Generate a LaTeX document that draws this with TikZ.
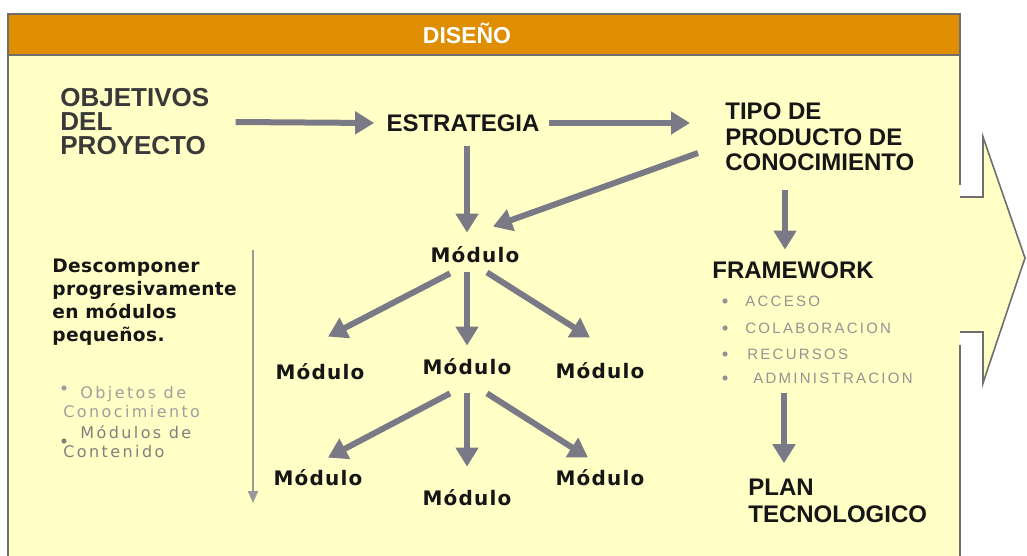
\documentclass[tikz,border=0pt]{standalone}
\usepackage{fontspec}
\setmainfont{Liberation Sans}
\newfontfamily\modfont[LetterSpace=6]{DejaVu Sans}
\newfontfamily\descfont[LetterSpace=2]{DejaVu Sans}
\newfontfamily\notefont[LetterSpace=15]{DejaVu Sans}
\newfontfamily\itemfont[LetterSpace=15]{Liberation Sans}
\usetikzlibrary{arrows.meta}
\definecolor{hdrorange}{RGB}{222,142,0}
\definecolor{paper}{RGB}{255,255,198}
\definecolor{arrowgray}{RGB}{122,122,134}
\definecolor{edgegray}{RGB}{110,110,110}
\definecolor{ink}{RGB}{22,22,22}

\begin{document}
\begin{tikzpicture}[x=0.5pt, y=-0.5pt,
    label/.style={font=\fontsize{12}{12.75}\selectfont\bfseries, text=ink, inner sep=0pt, align=left},
    word/.style={label, text height=8.5pt, text depth=0pt},
    modbox/.style={font=\modfont\fontsize{10}{11}\selectfont\bfseries, text=ink, inner sep=0pt, text height=7pt, text depth=0pt},
    flow/.style={draw=arrowgray, line width=3pt, -{Triangle[length=9.5pt,width=11pt]}},
    fwitem/.style={font=\itemfont\fontsize{7.5}{8}\selectfont, text=gray!85, anchor=west, inner sep=0pt},
    note/.style={font=\notefont\fontsize{8}{9.5}\selectfont, align=left, anchor=west, inner sep=0pt}]
    \useasboundingbox (0,0) rectangle (1027,556);

    % --- frame and header ---
    \fill[paper] (8,14) rectangle (960,556);
    \fill[hdrorange] (8,14) rectangle (960,55);
    \draw[edgegray, line width=1pt] (8,556) -- (8,14) -- (960,14) -- (960,185);
    \draw[edgegray, line width=1pt] (960,345) -- (960,556);
    \draw[edgegray, line width=1pt] (8,55) -- (960,55);
    \filldraw[fill=paper, draw=edgegray, line width=0.8pt] (960,197) -- (983,197) -- (983,137) -- (1025,258) -- (983,383) -- (983,332) -- (960,332);
    \node[font=\fontsize{11.5}{12}\selectfont\bfseries, text=white] (hdr) at (467,33) {DISEÑO};

    % --- top row ---
    \node[label, anchor=west, text=ink!85, font=\fontsize{13}{12}\selectfont\bfseries] (obj) at (60,122) {OBJETIVOS\\DEL\\PROYECTO};
    \node[word] (estr) at (463,123) {ESTRATEGIA};
    \node[label, anchor=west] (tipo) at (725,137) {TIPO DE\\PRODUCTO DE\\CONOCIMIENTO};

    % --- module tree ---
    \node[modbox] (m0) at (475,255) {Módulo};
    \node[modbox] (m1l) at (320,372) {Módulo};
    \node[modbox] (m1c) at (467,367) {Módulo};
    \node[modbox] (m1r) at (600,371) {Módulo};
    \node[modbox] (m2l) at (318,478) {Módulo};
    \node[modbox] (m2c) at (467,498) {Módulo};
    \node[modbox] (m2r) at (600,478) {Módulo};

    % --- left notes ---
    \node[font=\descfont\fontsize{9.3}{11.5}\selectfont\bfseries, align=left, anchor=west, inner sep=0pt, text=ink] (desc) at (52,302) {Descomponer\\progresivamente\\en módulos\\pequeños.};
    \fill[gray!75] (64,388) circle (1.3pt);
    \node[note, text=gray!75] (objc) at (63,402) {\hspace{8.5pt}Objetos de\\Conocimiento};
    \fill[gray] (64,441) circle (1.3pt);
    \node[note, text=gray] (cont) at (63,442) {\hspace{8.5pt}Módulos de\\Contenido};
    \coordinate (sweepTop) at (253,250);
    \coordinate (sweepBot) at (253,503);
    \draw[draw=gray!80, line width=1pt, -{Triangle[length=6pt,width=5pt]}] (sweepTop) -- (sweepBot);

    % --- right column ---
    \node[word, anchor=west] (fw) at (712,270) {FRAMEWORK};
    \foreach \n/\t/\xx/\yy in {acc/ACCESO/745/301, col/COLABORACION/745/328, rec/RECURSOS/747/354, adm/ADMINISTRACION/753/378} {
        \fill[gray!85] (725,\yy) circle (1.3pt);
        \node[fwitem] (\n) at (\xx,\yy) {\t};
    }
    \node[label, anchor=west, font=\fontsize{12}{13.5}\selectfont\bfseries] (plan) at (748,501) {PLAN\\TECNOLOGICO};

    % --- connectors ---
    \draw[flow] ([shift={(26,0)}]obj.east) -- ([shift={(-12,0)}]estr.west);
    \draw[flow] ([shift={(9,0)}]estr.east) -- ([shift={(-35,-14)}]tipo.west);
    \draw[flow] ([shift={(4,14)}]estr.south) -- ([shift={(-8,-15)}]m0.north);
    \draw[flow] ([shift={(-27,16)}]tipo.west) -- ([shift={(18,-21)}]m0.north);
    \draw[flow] ([shift={(-25,11)}]m0.south) -- ([shift={(8,-28)}]m1l.north);
    \draw[flow] ([shift={(-8,10)}]m0.south) -- ([shift={(0,-14)}]m1c.north);
    \draw[flow] ([shift={(12,10)}]m0.south) -- ([shift={(-10,-26)}]m1r.north);
    \draw[flow] ([shift={(-17,19)}]m1c.south) -- ([shift={(10,-13)}]m2l.north);
    \draw[flow] ([shift={(0,19)}]m1c.south) -- ([shift={(0,-24)}]m2c.north);
    \draw[flow] ([shift={(20,19)}]m1c.south) -- ([shift={(-12,-13)}]m2r.north);
    \draw[flow] ([shift={(60,19)}]tipo.south west) -- ([shift={(73,-11.5)}]fw.north west);
    \draw[flow] ([shift={(31,9)}]adm.south west) -- ([shift={(36,-15.5)}]plan.north west);
\end{tikzpicture}
\end{document}
